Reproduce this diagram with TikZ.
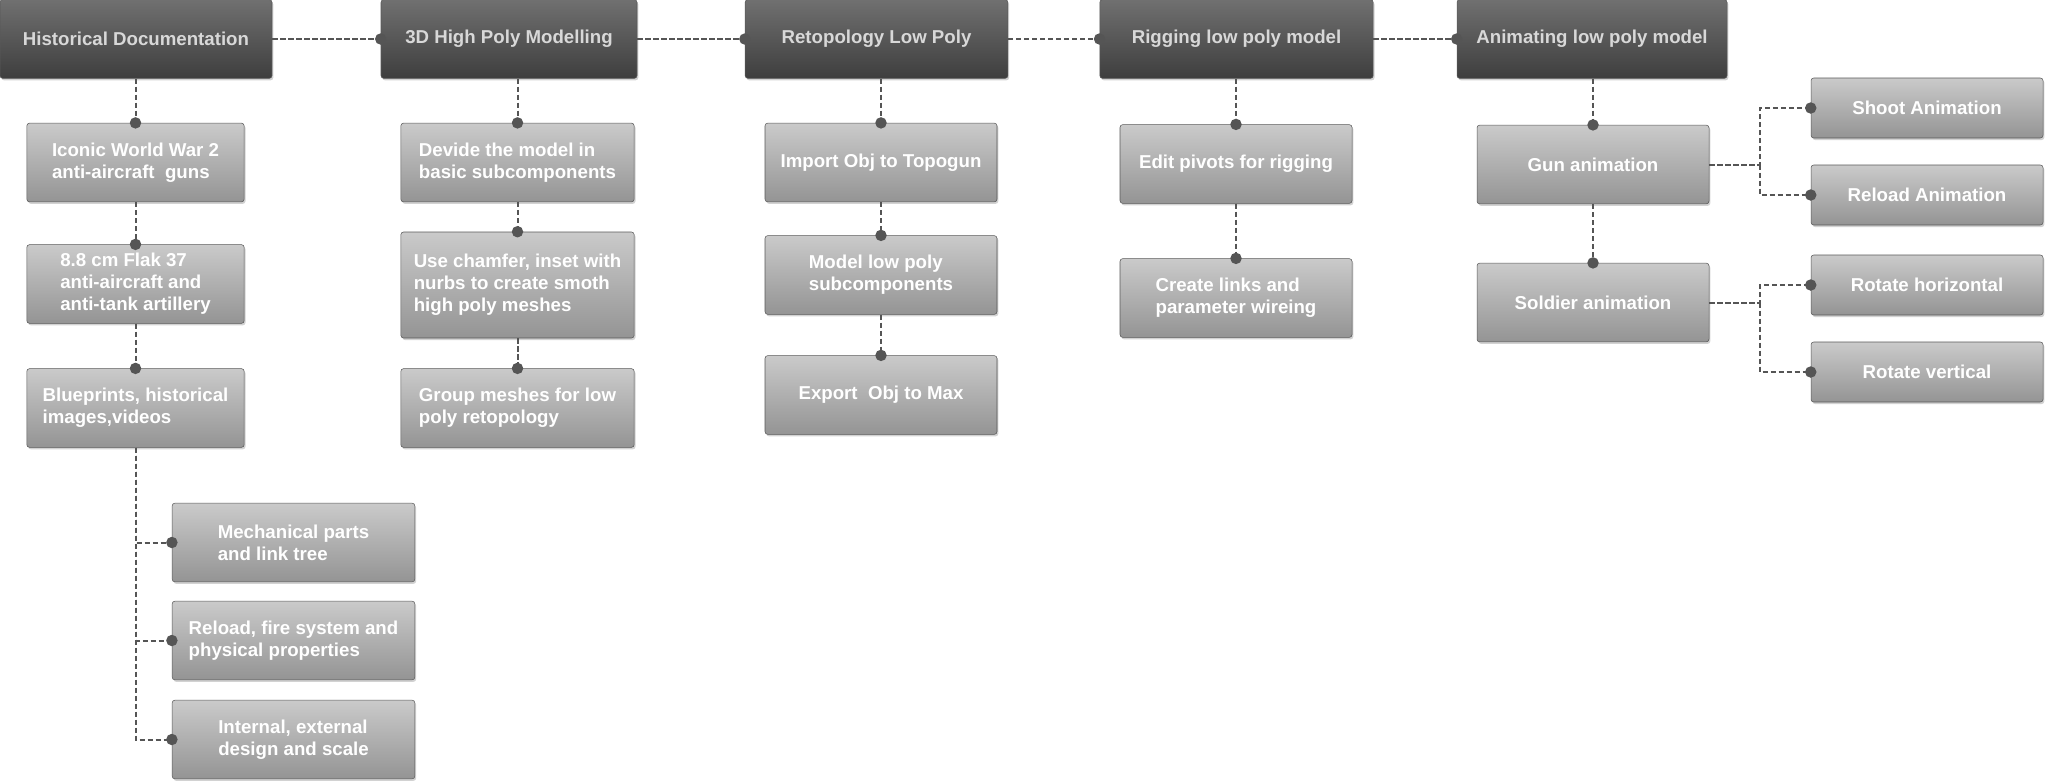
\documentclass[tikz,border=0pt]{standalone}
\usepackage{fontspec}
\setmainfont{Liberation Sans}
\usetikzlibrary{positioning, calc, arrows.meta, shadows}

\definecolor{stagetop}{HTML}{707070}
\definecolor{stagebot}{HTML}{3E3E3E}
\definecolor{tasktop}{HTML}{CACACA}
\definecolor{taskbot}{HTML}{949494}
\definecolor{linkgray}{HTML}{555555}
\definecolor{stagetext}{HTML}{D8D8D8}

\tikzset{
  box/.style={draw=black!65, rounded corners=2pt, inner sep=4pt, align=left,
    font=\fontsize{14}{16.5}\selectfont\bfseries, minimum height=59pt,
    drop shadow={shadow xshift=1pt, shadow yshift=-1.5pt, fill=black!35, opacity=0.5}},
  stage/.style={box, top color=stagetop, bottom color=stagebot, text=stagetext},
  task/.style={box, top color=tasktop, bottom color=taskbot, text=white, minimum width=174pt},
  link/.style={draw=linkgray, line width=1.5pt, dash pattern=on 4pt off 2pt,
    -{Circle[length=8.5pt]}, shorten >=-4.25pt},
}

\begin{document}
\begin{tikzpicture}[x=0.75pt, y=-0.75pt]
    \useasboundingbox (0,0) rectangle (2048,782);

    % Main stages along the top
    \node[stage, minimum width=204pt]   (hist)   at (136,39)    {Historical Documentation};
    \node[stage, minimum width=192pt]   (high)   at (509,39)    {3D High Poly Modelling};
    \node[stage, minimum width=197pt]   (retopo) at (876.5,39)  {Retopology Low Poly};
    \node[stage, minimum width=205pt]   (rig)    at (1236.5,39) {Rigging low poly model};
    \node[stage, minimum width=202.5pt] (anim)   at (1592,39)   {Animating low poly model};

    % Documentation column
    \node[task, minimum width=163pt] (iconic) at (135.5,162.5) {Iconic World War 2\\anti-aircraft~ guns};
    \node[task, minimum width=163pt] (flak)   at (135.5,284)   {8.8 cm Flak 37\\anti-aircraft and\\anti-tank artillery};
    \node[task, minimum width=163pt] (blue)   at (135.5,408)   {Blueprints, historical\\images,videos};
    \node[task, minimum width=182pt] (mech)   at (293.5,542.5) {Mechanical parts\\and link tree};
    \node[task, minimum width=182pt] (fire)   at (293.5,640.5) {Reload, fire system and\\physical properties};
    \node[task, minimum width=182pt] (inter)  at (293.5,739.5) {Internal, external\\design and scale};

    % High poly column
    \node[task, minimum width=175pt] (devide)  at (517.5,162.5) {Devide the model in\\basic subcomponents};
    \node[task, minimum width=175pt, minimum height=79.5pt] (chamfer) at (517.5,285) {Use chamfer, inset with\\nurbs to create smoth\\high poly meshes};
    \node[task, minimum width=175pt] (group)   at (517.5,408)   {Group meshes for low\\poly retopology};

    % Retopology column
    \node[task] (import)  at (881,162.5) {Import Obj to Topogun};
    \node[task] (lowpoly) at (881,275)   {Model low poly\\subcomponents};
    \node[task] (export)  at (881,395)   {Export~ Obj to Max};

    % Rigging column
    \node[task] (pivots) at (1236,164) {Edit pivots for rigging};
    \node[task] (links)  at (1236,298) {Create links and\\parameter wireing};

    % Animation column
    \node[task] (gun)     at (1593,164.5) {Gun animation};
    \node[task] (soldier) at (1593,302.5) {Soldier animation};
    \node[task, minimum height=45pt] (shoot)   at (1927,108) {Shoot Animation};
    \node[task, minimum height=45pt] (reload)  at (1927,195) {Reload Animation};
    \node[task, minimum height=45pt] (rothor)  at (1927,285) {Rotate horizontal};
    \node[task, minimum height=45pt] (rotver)  at (1927,372) {Rotate vertical};

    % Links between the stages
    \draw[link] (hist.east) -- (high.west);
    \draw[link] (high.east) -- (retopo.west);
    \draw[link] (retopo.east) -- (rig.west);
    \draw[link] (rig.east) -- (anim.west);

    % Links down the columns
    \draw[link] (iconic.north |- hist.south) -- (iconic.north);
    \draw[link] (iconic.south) -- (flak.north);
    \draw[link] (flak.south) -- (blue.north);
    \draw[link] (blue.south) |- (mech.west);
    \draw[link] (blue.south) |- (fire.west);
    \draw[link] (blue.south) |- (inter.west);

    \draw[link] (devide.north |- high.south) -- (devide.north);
    \draw[link] (devide.south) -- (chamfer.north);
    \draw[link] (chamfer.south) -- (group.north);

    \draw[link] (import.north |- retopo.south) -- (import.north);
    \draw[link] (import.south) -- (lowpoly.north);
    \draw[link] (lowpoly.south) -- (export.north);

    \draw[link] (pivots.north |- rig.south) -- (pivots.north);
    \draw[link] (pivots.south) -- (links.north);

    \draw[link] (gun.north |- anim.south) -- (gun.north);
    \draw[link] (gun.south) -- (soldier.north);

    % Forks to the animation details
    \coordinate (gunfork) at ($(gun.east)!0.5!(shoot.west |- gun.east)$);
    \coordinate (solfork) at ($(soldier.east)!0.5!(rothor.west |- soldier.east)$);
    \draw[link] (gun.east) -- (gunfork) |- (shoot.west);
    \draw[link] (gunfork) |- (reload.west);
    \draw[link] (soldier.east) -- (solfork) |- (rothor.west);
    \draw[link] (solfork) |- (rotver.west);
\end{tikzpicture}
\end{document}
